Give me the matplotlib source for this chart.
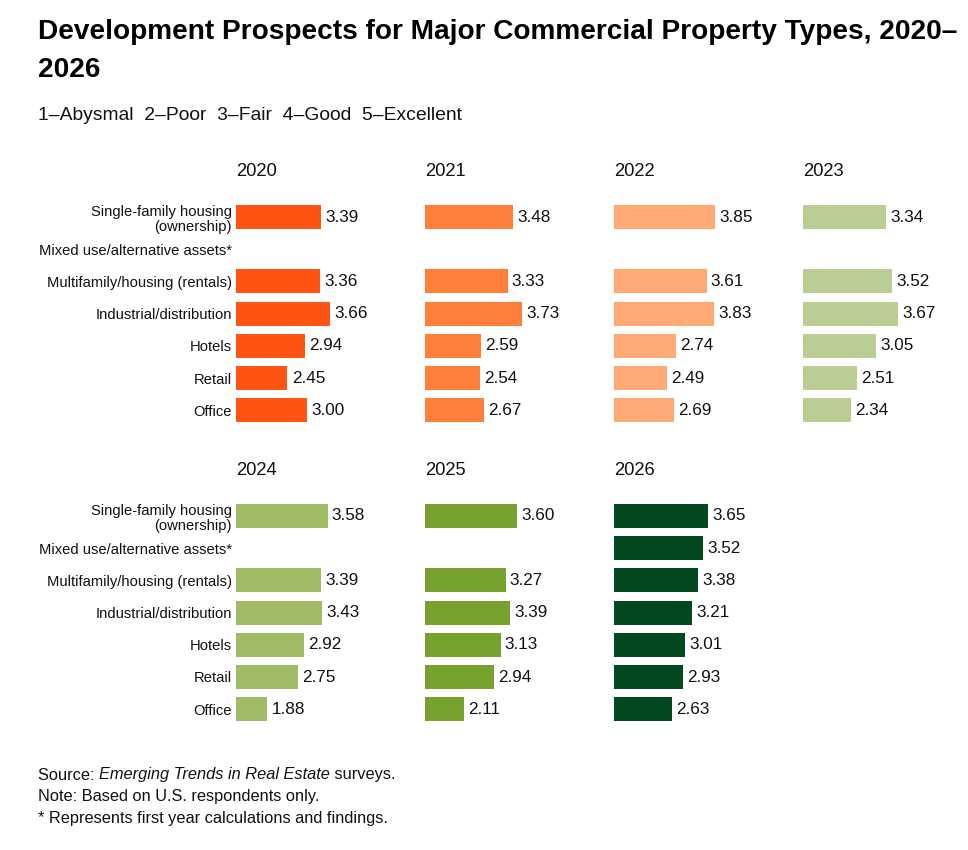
import matplotlib
matplotlib.use("Agg")
import matplotlib.pyplot as plt
import numpy as np

plt.rcParams['font.family'] = ['Liberation Sans', 'DejaVu Sans']

categories = ["Single-family housing\n(ownership)", "Mixed use/alternative assets*",
              "Multifamily/housing (rentals)", "Industrial/distribution",
              "Hotels", "Retail", "Office"]
years = ["2020", "2021", "2022", "2023", "2024", "2025", "2026"]
v2020 = [3.39, None, 3.36, 3.66, 2.94, 2.45, 3.00]
v2021 = [3.48, None, 3.33, 3.73, 2.59, 2.54, 2.67]
v2022 = [3.85, None, 3.61, 3.83, 2.74, 2.49, 2.69]
v2023 = [3.34, None, 3.52, 3.67, 3.05, 2.51, 2.34]
v2024 = [3.58, None, 3.39, 3.43, 2.92, 2.75, 1.88]
v2025 = [3.60, None, 3.27, 3.39, 3.13, 2.94, 2.11]
v2026 = [3.65, 3.52, 3.38, 3.21, 3.01, 2.93, 2.63]
series = [v2020, v2021, v2022, v2023, v2024, v2025, v2026]
colors = ["#FF5314", "#FF7E3A", "#FFA974", "#BACE93", "#A0BC67", "#76A12E", "#03481F"]
baseline = 1.0

W, H = 968, 850
fig = plt.figure(figsize=(W / 100, H / 100), dpi=100)

def fx(px):
    return px / W

def fy(py):
    return 1 - py / H

col_x = [236, 425, 614, 803, 236, 425, 614]
row_top = [217, 217, 217, 217, 516, 516, 516]   # centre of first bar row
step = 32.2
px_per_unit = 35.5
ax_w = 150

for i, (yr, vals, c) in enumerate(zip(years, series, colors)):
    x0 = col_x[i]
    top = row_top[i] - step / 2
    bottom = top + 7 * step
    ax = fig.add_axes([fx(x0), fy(bottom), ax_w / W, (bottom - top) / H])
    ypos = np.arange(len(categories))
    for y, v in zip(ypos, vals):
        if v is None:
            continue
        ax.barh(y, v - baseline, left=baseline, height=0.745, color=c)
        ax.annotate(f"{v:.2f}", xy=(v, y), xytext=(3, 0), textcoords="offset points",
                    va="center", ha="left", fontsize=12.3, color="#111111")
    ax.set_xlim(baseline, baseline + ax_w / px_per_unit)
    ax.set_ylim(len(categories) - 0.5, -0.5)
    for s in ax.spines.values():
        s.set_visible(False)
    ax.set_xticks([])
    ax.tick_params(axis="y", length=0, pad=3)
    if col_x[i] == 236:
        ax.set_yticks(ypos)
        ax.set_yticklabels(categories, fontsize=10.6, color="#111111", linespacing=1.15)
    else:
        ax.set_yticks([])
    fig.text(fx(x0), fy(row_top[i] - 45), yr, fontsize=13.2, va="center", ha="left", color="#111111")

fig.text(fx(38), fy(32), "Development Prospects for Major Commercial Property Types, 2020\u2013",
         fontsize=20.2, fontweight="bold", va="center", ha="left", color="#000000")
fig.text(fx(38), fy(70), "2026", fontsize=20.2, fontweight="bold", va="center", ha="left", color="#000000")
fig.text(fx(38), fy(115), "1\u2013Abysmal  2\u2013Poor  3\u2013Fair  4\u2013Good  5\u2013Excellent",
         fontsize=13.9, va="center", ha="left", color="#111111")

fs_foot = 11.8
t1 = fig.text(fx(38), fy(775), "Source: ", fontsize=fs_foot, va="center", ha="left", color="#111111")
t2 = plt.annotate("Emerging Trends in Real Estate", xy=(1, 0), xycoords=t1, va="bottom", ha="left",
                  fontsize=fs_foot, style="italic", color="#111111")
plt.annotate(" surveys.", xy=(1, 0), xycoords=t2, va="bottom", ha="left", fontsize=fs_foot, color="#111111")
fig.text(fx(38), fy(797), "Note: Based on U.S. respondents only.", fontsize=fs_foot, va="center", ha="left", color="#111111")
fig.text(fx(38), fy(818), "* Represents first year calculations and findings.", fontsize=fs_foot, va="center", ha="left", color="#111111")

fig.savefig("out.png", dpi=100)
